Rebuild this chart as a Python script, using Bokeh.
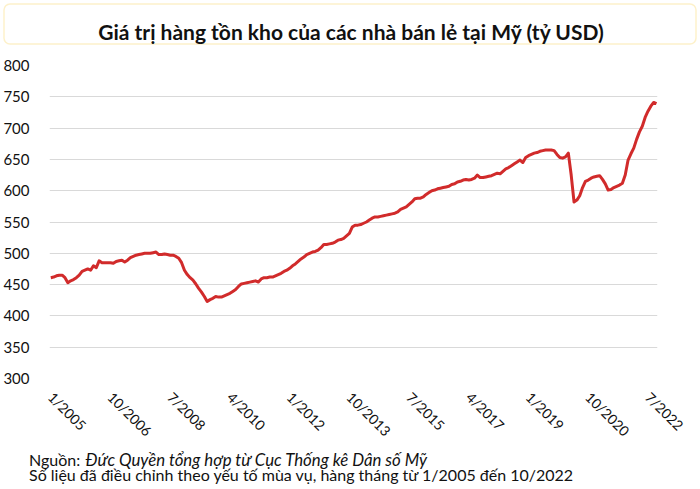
import math
from bokeh.plotting import figure
from bokeh.layouts import column
from bokeh.models import Range1d, FixedTicker, Label, BoxAnnotation, ColumnDataSource
from bokeh.embed import file_html
from bokeh.resources import INLINE

title_text = "Giá trị hàng tồn kho của các nhà bán lẻ tại Mỹ (tỷ USD)"
source_prefix = "Nguồn: "
source_text = "Đức Quyền tổng hợp từ Cục Thống kê Dân số Mỹ"
note_text = "Số liệu đã điều chỉnh theo yếu tố mùa vụ, hàng tháng từ 1/2005 đến 10/2022"

# monthly values, 1/2005 .. 10/2022 (billion USD)
v2005 = [461, 462, 464, 465, 465, 461, 453, 456, 458, 461, 465, 471]
v2006 = [473, 475, 473, 480, 477, 488, 485, 485, 485, 485, 484, 487]
v2007 = [488, 489, 486, 489, 493, 495, 497, 498, 499, 500, 500, 500]
v2008 = [501, 502, 498, 498, 499, 498, 497, 497, 495, 492, 485, 473]
v2009 = [466, 461, 457, 451, 444, 438, 431, 423, 426, 428, 431, 430]
v2010 = [430, 432, 434, 436, 439, 442, 447, 451, 452, 453, 454, 455]
v2011 = [456, 454, 459, 461, 461, 462, 462, 464, 466, 468, 471, 473]
v2012 = [476, 480, 483, 487, 491, 494, 498, 500, 502, 503, 505, 509]
v2013 = [514, 514, 515, 516, 518, 521, 522, 524, 528, 532, 542, 545]
v2014 = [545, 546, 548, 550, 553, 556, 558, 558, 559, 560, 561, 562]
v2015 = [563, 564, 566, 570, 572, 574, 578, 582, 587, 588, 588, 590]
v2016 = [594, 597, 600, 601, 603, 604, 605, 606, 607, 610, 611, 614]
v2017 = [615, 617, 618, 617, 618, 620, 625, 621, 621, 622, 623, 624]
v2018 = [626, 628, 627, 631, 635, 637, 640, 643, 646, 649, 645, 653]
v2019 = [656, 658, 660, 661, 663, 664, 665, 665, 665, 664, 658, 653]
v2020 = [652, 654, 660, 625, 582, 585, 592, 605, 615, 617, 620, 622]
v2021 = [623, 624, 618, 611, 601, 602, 605, 607, 609, 612, 625, 649]
v2022 = [659, 668, 682, 694, 703, 717, 727, 735, 741, 739]

values = (v2005 + v2006 + v2007 + v2008 + v2009 + v2010 + v2011 + v2012 + v2013
          + v2014 + v2015 + v2016 + v2017 + v2018 + v2019 + v2020 + v2021 + v2022)
month_index = list(range(len(values)))

tick_positions = [0, 21, 42, 63, 84, 105, 126, 147, 168, 189, 210]
tick_labels = ["1/2005", "10/2006", "7/2008", "4/2010", "1/2012", "10/2013",
               "7/2015", "4/2017", "1/2019", "10/2020", "7/2022"]
y_ticks = [300, 350, 400, 450, 500, 550, 600, 650, 700, 750, 800]

FONT = "Lato"
W = 700
H_TOP, H_MAIN, H_BOT = 46, 408, 49
BOT_OVERLAP = 14


def blank(h):
    f = figure(width=W, height=h, output_backend="svg", toolbar_location=None,
               x_range=Range1d(0, W), y_range=Range1d(h, 0),
               x_axis_type=None, y_axis_type=None, frame_align=False,
               min_border=0, min_border_left=0, min_border_right=0,
               min_border_top=0, min_border_bottom=0)
    f.outline_line_color = None
    f.grid.grid_line_color = None
    f.background_fill_color = "white"
    f.border_fill_color = "white"
    return f


# ---- title
top = blank(H_TOP)
top.add_layout(BoxAnnotation(left=3.5, right=695.5, top=3.5, bottom=43.5,
                             fill_color="white", fill_alpha=0.0,
                             line_color="#F7CF4F", line_width=1.5,
                             border_radius=6))
top.add_layout(Label(x=351, y=30.5, text=title_text, text_font=FONT,
                     text_font_style="bold", text_font_size="21px",
                     text_color="#111111", text_align="center",
                     text_baseline="alphabetic"))

# ---- main chart
p = figure(width=W, height=H_MAIN, output_backend="svg", toolbar_location=None,
           x_range=Range1d(-0.45, 213.35), y_range=Range1d(300, 800),
           frame_align=False,
           min_border_left=43, min_border_right=43, min_border_top=19,
           min_border_bottom=H_MAIN - 19 - 313)
p.outline_line_color = None
p.background_fill_color = "white"
p.border_fill_color = "white"

src = ColumnDataSource(dict(x=month_index, y=values))
p.line("x", "y", source=src, line_color="#D12B2B", line_width=3, line_join="round")

p.yaxis.ticker = FixedTicker(ticks=y_ticks)
p.yaxis.axis_line_color = None
p.yaxis.major_tick_line_color = None
p.yaxis.minor_tick_line_color = None
p.yaxis.major_label_text_font = FONT
p.yaxis.major_label_text_font_size = "15px"
p.yaxis.major_label_text_color = "#111111"
p.yaxis.major_label_standoff = 14

p.xaxis.ticker = FixedTicker(ticks=tick_positions)
p.xaxis.major_label_overrides = {t: l for t, l in zip(tick_positions, tick_labels)}
p.xaxis.axis_line_color = None
p.xaxis.major_tick_line_color = None
p.xaxis.minor_tick_line_color = None
p.xaxis.major_label_text_font = FONT
p.xaxis.major_label_text_font_size = "14px"
p.xaxis.major_label_text_color = "#111111"
p.xaxis.major_label_orientation = -math.pi / 4
p.xaxis.major_label_standoff = 10

p.xgrid.grid_line_color = None
p.ygrid.ticker = FixedTicker(ticks=y_ticks)
p.ygrid.grid_line_color = "#D9D9D9"
p.ygrid.grid_line_width = 1

# ---- footer
bot = blank(H_BOT)
bot.margin = (-BOT_OVERLAP, 0, 0, 0)
bot.add_layout(Label(x=28.5, y=18.7, text=source_prefix, text_font=FONT,
                     text_font_size="16px", text_color="#111111",
                     text_align="left", text_baseline="alphabetic"))
bot.add_layout(Label(x=85, y=18.7, text=source_text, text_font=FONT,
                     text_font_size="16.8px", text_font_style="italic",
                     text_color="#111111", text_align="left",
                     text_baseline="alphabetic"))
bot.add_layout(Label(x=28.5, y=33.7, text=note_text, text_font=FONT,
                     text_font_size="16px", text_color="#111111",
                     text_align="left", text_baseline="alphabetic"))

layout = column(top, p, bot, spacing=0)
open("out.html", "w").write(file_html(layout, INLINE))
